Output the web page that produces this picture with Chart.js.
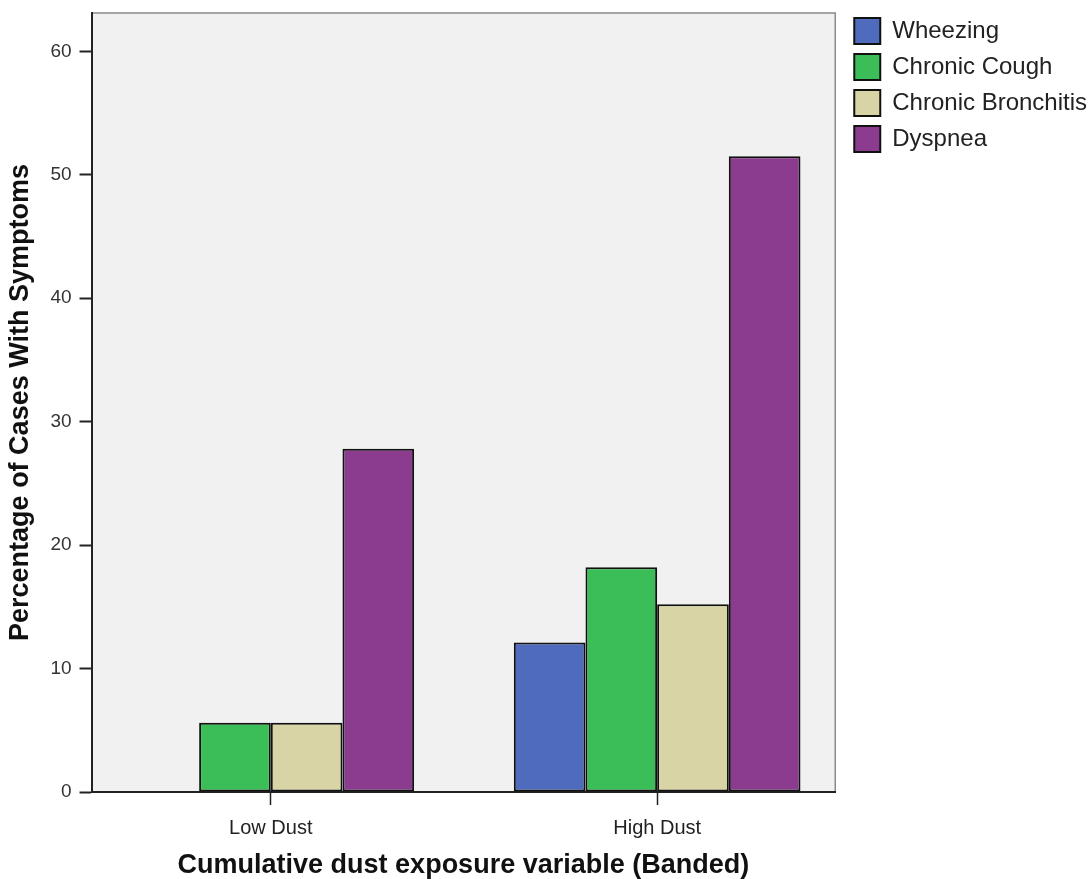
<!DOCTYPE html>
<html lang="en">
<head>
  <meta charset="UTF-8">
  <title>Symptoms by dust exposure</title>
  <script src="https://cdn.jsdelivr.net/npm/chart.js"></script>
  <style>
    body { margin: 0; background: #fff; }
  </style>
</head>
<body>
  <canvas id="graphic" width="1091" height="879"></canvas>

  <script>
    const categories = ["Low Dust", "High Dust"];
    const wheezing = [0, 12.1];
    const chronicCough = [5.6, 18.2];
    const chronicBronchitis = [5.6, 15.2];
    const dyspnea = [27.8, 51.5];
    const yTicks = [0, 10, 20, 30, 40, 50, 60];

    // puntos {x, y} para poder usar un eje lineal
    const toPoints = arr => arr.map((v, i) => ({ x: i, y: v }));

    const plotBackground = {
      id: 'plotBackground',
      afterLayout(chart) {
        // separa un poco la leyenda del area del grafico
        chart.legend.left += 9;
        chart.legend.right += 9;
        chart.legend.top -= 5;
        chart.legend.bottom -= 5;
      },
      beforeDraw(chart) {
        const { ctx, chartArea: a } = chart;
        ctx.save();
        ctx.fillStyle = '#f1f1f1';
        ctx.fillRect(a.left, a.top, a.right - a.left, a.bottom - a.top);
        ctx.strokeStyle = '#8a8a8a';
        ctx.lineWidth = 1.5;
        ctx.beginPath();
        ctx.moveTo(a.left, a.top);
        ctx.lineTo(a.right, a.top);
        ctx.lineTo(a.right, a.bottom);
        ctx.stroke();
        ctx.restore();
      }
    };

    const lienzo = document.getElementById("graphic");

    new Chart(lienzo, {
      type: 'bar',
      data: {
        datasets: [
          { label: 'Wheezing', data: toPoints(wheezing), backgroundColor: '#4e6bbd' },
          { label: 'Chronic Cough', data: toPoints(chronicCough), backgroundColor: '#3bbd57' },
          { label: 'Chronic Bronchitis', data: toPoints(chronicBronchitis), backgroundColor: '#d9d4a5' },
          { label: 'Dyspnea', data: toPoints(dyspnea), backgroundColor: '#8b3c8e' }
        ]
      },
      options: {
        responsive: false,
        animation: false,
        datasets: {
          bar: {
            borderColor: '#111',
            borderWidth: 2,
            borderSkipped: false,
            categoryPercentage: 0.742,
            barPercentage: 1.0
          }
        },
        layout: {
          padding: { top: 13, left: 4, right: 3, bottom: 0 }
        },
        scales: {
          x: {
            type: 'linear',
            offset: false,
            min: -0.464,
            max: 1.461,
            afterBuildTicks: axis => {
              axis.ticks = categories.map((c, i) => ({ value: i }));
            },
            ticks: {
              callback: v => categories[v],
              color: '#222',
              font: { family: 'Liberation Sans, Arial', size: 20 },
              padding: 11
            },
            grid: { offset: false, drawOnChartArea: false, tickLength: 13, color: '#222', tickWidth: 1.5 },
            border: { color: '#222', width: 2 },
            title: {
              display: true,
              text: 'Cumulative dust exposure variable (Banded)',
              color: '#111',
              font: { family: 'Liberation Sans, Arial', size: 27, weight: 'bold', lineHeight: 1.0 },
              padding: { top: 1, bottom: 0 }
            }
          },
          y: {
            min: 0,
            max: 63.1,
            afterBuildTicks: axis => {
              axis.ticks = yTicks.map(v => ({ value: v }));
            },
            ticks: {
              color: '#333',
              font: { family: 'Liberation Sans, Arial', size: 19, lineHeight: 0.5 },
              padding: 8
            },
            grid: { drawOnChartArea: false, tickLength: 12, color: '#222', tickWidth: 2 },
            border: { color: '#222', width: 2 },
            title: {
              display: true,
              text: 'Percentage of Cases With Symptoms',
              color: '#111',
              font: { family: 'Liberation Sans, Arial', size: 27, weight: 'bold' },
              padding: { top: 0, bottom: 6 }
            }
          }
        },
        plugins: {
          legend: {
            position: 'right',
            align: 'start',
            maxWidth: 256,
            labels: {
              boxWidth: 26,
              boxHeight: 26,
              padding: 10,
              color: '#222',
              font: { family: 'Liberation Sans, Arial', size: 24 }
            }
          },
          tooltip: { enabled: false }
        }
      },
      plugins: [plotBackground]
    });
  </script>
</body>
</html>
